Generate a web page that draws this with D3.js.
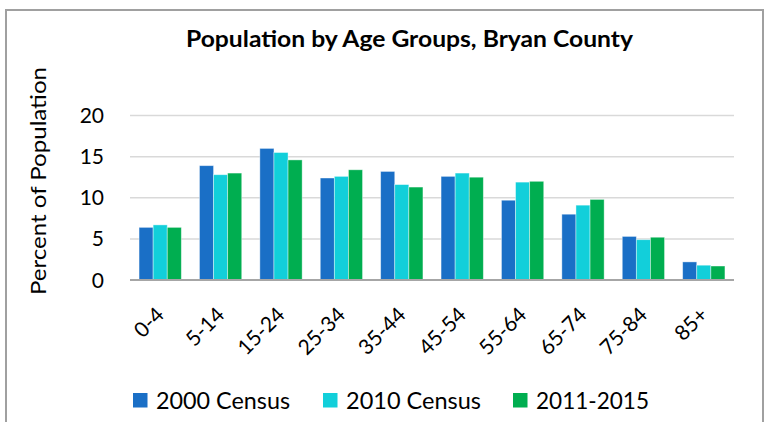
<!DOCTYPE html>
<html><head><meta charset="utf-8">
<script src="https://cdn.jsdelivr.net/npm/d3@7/dist/d3.min.js"></script>
<style>html,body{margin:0;padding:0;background:#fff;overflow:hidden}</style>
</head><body>
<svg id="chart" width="765" height="422"></svg>
<script>
const categories = ["0-4","5-14","15-24","25-34","35-44","45-54","55-64","65-74","75-84","85+"];
const seriesNames = ["2000 Census","2010 Census","2011-2015"];
const census2000 = [6.4,13.9,16.0,12.4,13.2,12.6,9.7,8.0,5.3,2.2];
const census2010 = [6.7,12.8,15.5,12.6,11.6,13.0,11.9,9.1,4.9,1.8];
const acs20112015 = [6.4,13.0,14.6,13.4,11.3,12.5,12.0,9.8,5.2,1.7];
const yTicks = [0,5,10,15,20];
const colors = ["#1A6FC6","#12CFDA","#00AE50"];
const title = "Population by Age Groups, Bryan County";
const yTitle = "Percent of Population";

const series = [census2000, census2010, acs20112015];
const FONT = "Lato, 'Open Sans', sans-serif";
const svg = d3.select("#chart");

svg.append("rect").attr("x",6).attr("y",10).attr("width",757).attr("height",430)
  .attr("fill","#fff").attr("stroke","#a0a0a0").attr("stroke-width",2);

const x = d3.scaleBand().domain(categories).range([130,734]).paddingInner(0.3).paddingOuter(0.15);
const xs = d3.scaleBand().domain(seriesNames).range([0,x.bandwidth()]);
const y = d3.scaleLinear().domain([0,20]).range([280,115.5]);

// gridlines
svg.append("g").selectAll("line").data(yTicks.filter(d=>d>0)).join("line")
  .attr("x1",130).attr("x2",734).attr("y1",d=>y(d)).attr("y2",d=>y(d))
  .attr("stroke","#d9d9d9").attr("stroke-width",1.5);

// y tick labels
svg.append("g").selectAll("text").data(yTicks).join("text")
  .attr("x",104).attr("y",d=>y(d)).attr("dy","0.36em").attr("text-anchor","end")
  .style("font-family",FONT).style("font-size","21px").attr("fill","#000")
  .text(d=>d);

// bars
const g = svg.append("g");
series.forEach((vals,si)=>{
  g.append("g").selectAll("rect").data(vals).join("rect")
    .attr("x",(d,i)=>x(categories[i])+xs(seriesNames[si]))
    .attr("width",xs.bandwidth())
    .attr("y",d=>y(d)).attr("height",d=>y(0)-y(d))
    .attr("fill",colors[si]).attr("stroke","#fff").attr("stroke-opacity",0.5).attr("stroke-width",0.8);
});

// x axis line
svg.append("line").attr("x1",130).attr("x2",734).attr("y1",y(0)).attr("y2",y(0))
  .attr("stroke","#a6a6a6").attr("stroke-width",2);

// x labels
svg.append("g").selectAll("text").data(categories).join("text")
  .attr("transform",d=>`translate(${x(d)+x.bandwidth()/2},311) rotate(-45)`)
  .attr("text-anchor","end").attr("dy","0.35em")
  .style("font-family",FONT).style("font-size","21px").attr("fill","#000")
  .text(d=>d);

// title
svg.append("text").attr("x",186).attr("y",47)
  .style("font-family",FONT).style("font-size","23px").style("font-weight","bold")
  .attr("textLength",447).attr("lengthAdjust","spacingAndGlyphs")
  .text(title);

// y title
svg.append("text").attr("transform","translate(46,181) rotate(-90)")
  .attr("text-anchor","middle")
  .style("font-family",FONT).style("font-size","22px")
  .attr("textLength",228).attr("lengthAdjust","spacingAndGlyphs")
  .text(yTitle);

// legend
const legX = [133,323,513];
const legW = [134,135,113];
const leg = svg.append("g");
seriesNames.forEach((n,i)=>{
  leg.append("rect").attr("x",legX[i]).attr("y",393).attr("width",14.5).attr("height",14.5).attr("fill",colors[i]);
  leg.append("text").attr("x",legX[i]+23).attr("y",409)
    .style("font-family",FONT).style("font-size","23px")
    .attr("textLength",legW[i]).attr("lengthAdjust","spacingAndGlyphs")
    .text(n);
});
</script>
</body></html>
